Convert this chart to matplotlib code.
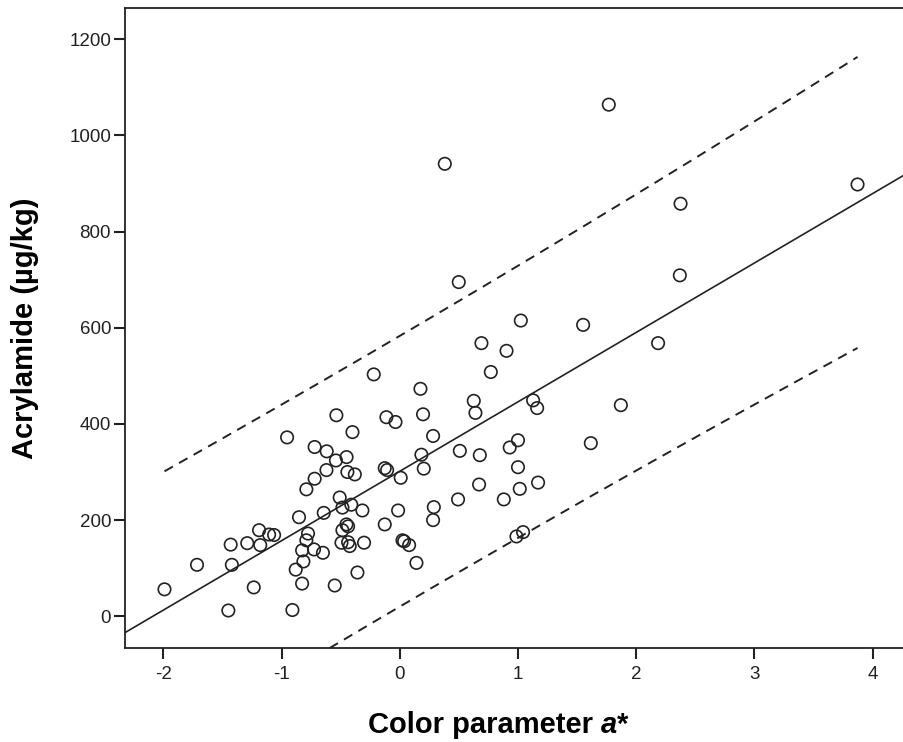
import numpy as np
import matplotlib
matplotlib.use("Agg")
import matplotlib.pyplot as plt

plt.rcParams['font.family'] = ['Liberation Sans', 'DejaVu Sans']

# colour parameter a* and acrylamide (ug/kg)
a_star = [
    -1.99, -1.715, -1.43, -1.42, -1.45, -1.29, -1.235, -1.19, -1.18, -1.105, -1.063,
    -0.953, -0.908, -0.852, -0.88, -0.826, -0.815, -0.826, -0.79, -0.776, -0.79,
    -0.72, -0.72, -0.725, -0.65, -0.643, -0.62, -0.618, -0.54, -0.536, -0.55,
    -0.508, -0.485, -0.45, -0.443, -0.38, -0.40, -0.41, -0.451, -0.437, -0.485,
    -0.493, -0.437, -0.423, -0.316, -0.302, -0.358,
    -0.22, -0.113, -0.036, -0.127, -0.107, -0.127, -0.014, 0.008, 0.023, 0.037,
    0.079, 0.141, 0.175, 0.197, 0.183, 0.203, 0.282, 0.288, 0.282,
    0.691, 0.903, 0.77, 0.626, 0.64, 1.128, 1.162, 0.508, 0.677, 0.93, 1.0,
    1.0, 1.015, 0.88, 0.671, 0.493, 0.987, 1.043,
    1.87, 1.616, 1.17, 2.375, 2.369, 1.024, 1.551, 2.185, 1.768, 3.872, 0.499, 0.381,
]
acrylamide = [
    56, 107, 149, 107, 12, 152, 60, 179, 148, 170, 169,
    372, 13, 206, 97, 68, 114, 137, 158, 172, 264,
    286, 352, 139, 132, 215, 304, 343, 324, 418, 64,
    247, 226, 331, 300, 295, 383, 232, 191, 187, 179,
    153, 154, 146, 220, 153, 91,
    503, 414, 404, 308, 304, 191, 220, 288, 158, 156,
    148, 111, 473, 420, 336, 307, 375, 227, 200,
    568, 552, 508, 448, 423, 449, 433, 344, 335, 351, 366,
    310, 265, 243, 274, 243, 166, 175,
    439, 360, 278, 858, 709, 615, 606, 568, 1064, 898, 695, 941,
]

x_ticks = [-2, -1, 0, 1, 2, 3, 4]
y_ticks = [0, 200, 400, 600, 800, 1000, 1200]

x = np.array(a_star, dtype=float)
y = np.array(acrylamide, dtype=float)

# least squares fit + 95% prediction interval for individuals
slope, intercept = np.polyfit(x, y, 1)
n = len(x)
resid = y - (intercept + slope * x)
s = np.sqrt(np.sum(resid ** 2) / (n - 2))
sxx = np.sum((x - x.mean()) ** 2)
t_crit = 1.986

fig = plt.figure(figsize=(9.04, 7.42), dpi=100)
ax = fig.add_axes([125 / 904, 1 - 648 / 742, 779 / 904, 640 / 742])

xlim = (-2.324, 4.265)
ax.set_xlim(*xlim)
ax.set_ylim(-66, 1265)

xf = np.linspace(xlim[0], xlim[1], 200)
ax.plot(xf, intercept + slope * xf, color='#222222', lw=1.2, zorder=2)

xp = np.linspace(x.min(), x.max(), 200)
half = t_crit * s * np.sqrt(1 + 1 / n + (xp - x.mean()) ** 2 / sxx)
fit_p = intercept + slope * xp
ax.plot(xp, fit_p + half, color='#222222', lw=1.4, ls=(0, (5, 3.6)), zorder=2)
ax.plot(xp, fit_p - half, color='#222222', lw=1.4, ls=(0, (5, 3.6)), zorder=2)

ax.scatter(x, y, s=80, facecolors='none', edgecolors='#222222', linewidths=1.2, zorder=3)

ax.set_xticks(x_ticks)
ax.set_xticklabels([str(v) for v in x_ticks])
ax.set_yticks(y_ticks)
ax.set_yticklabels([str(v) for v in y_ticks])
ax.tick_params(direction='out', length=8, width=1.5, colors='#222222', labelsize=13.5)
ax.tick_params(axis='x', pad=5)
ax.tick_params(axis='y', pad=2)

for side in ['left', 'bottom', 'top']:
    ax.spines[side].set_linewidth(1.3)
    ax.spines[side].set_color('#222222')
ax.spines['right'].set_visible(False)

fig.text(25 / 904, 1 - 328 / 742, 'Acrylamide (\u00b5g/kg)', rotation=90,
         ha='center', va='center', fontsize=21, fontweight='bold')

# x label with italic a
fig.canvas.draw()
r = fig.canvas.get_renderer()
t1 = fig.text(0, 0, 'Color parameter ', fontsize=21, fontweight='bold')
t2 = fig.text(0, 0, 'a', fontsize=21, fontweight='bold', fontstyle='italic')
t3 = fig.text(0, 0, '*', fontsize=21, fontweight='bold')
w1 = t1.get_window_extent(r).width
w2 = t2.get_window_extent(r).width
w3 = t3.get_window_extent(r).width
left = 498 - (w1 + w2 + w3) / 2
base = 742 - 733
t1.set_position((left / 904, base / 742))
t2.set_position(((left + w1) / 904, base / 742))
t3.set_position(((left + w1 + w2) / 904, base / 742))

fig.savefig('out.png', dpi=100)
